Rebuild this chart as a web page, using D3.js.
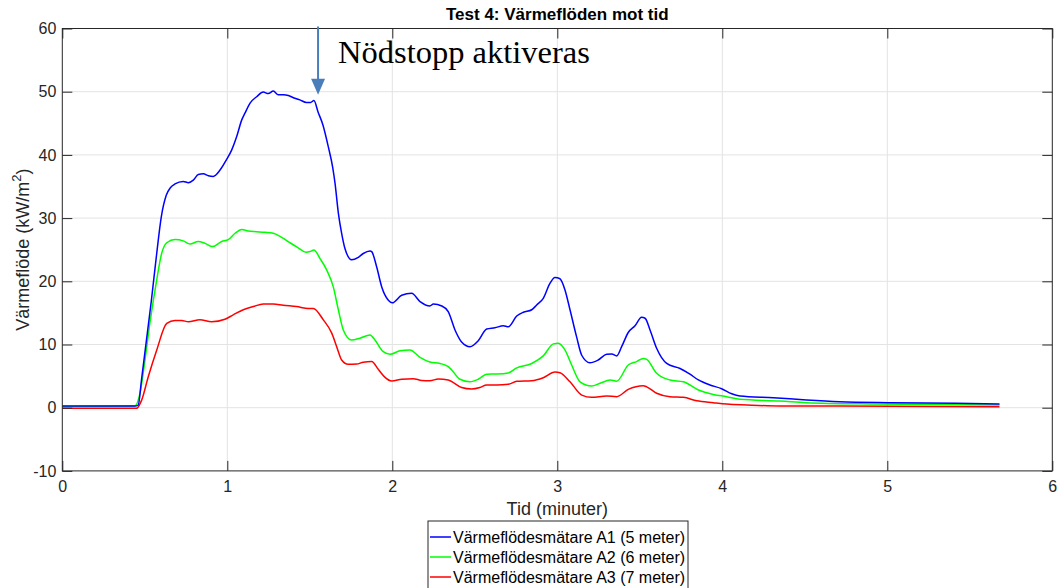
<!DOCTYPE html>
<html>
<head>
<meta charset="utf-8">
<script src="https://cdn.jsdelivr.net/npm/d3@7"></script>
<style>
  html, body { margin: 0; padding: 0; background: #fff; }
  svg { display: block; }
  text { font-family: "Liberation Sans", Arial, sans-serif; }
</style>
</head>
<body>
<svg id="chart" width="1057" height="588"></svg>
<script>
// Heat flux over time, three gauges (minutes, kW/m^2)
const seriesNames = [
  "Värmeflödesmätare A1 (5 meter)",
  "Värmeflödesmätare A2 (6 meter)",
  "Värmeflödesmätare A3 (7 meter)"
];
const seriesColors = ["#0000ff", "#00ff00", "#ff0000"];

const timeA1 = [0,0.2,0.44,0.46,0.48,0.51,0.54,0.57,0.60,0.63,0.655,0.683,0.733,0.764,0.794,0.824,0.855,0.885,0.915,0.956,0.996,1.027,1.057,1.087,1.107,1.138,1.178,1.218,1.248,1.279,1.309,1.339,1.37,1.40,1.44,1.48,1.505,1.525,1.55,1.58,1.612,1.639,1.653,1.673,1.693,1.713,1.754,1.794,1.824,1.865,1.875,1.905,1.936,1.976,2.0,2.057,2.117,2.168,2.228,2.249,2.30,2.339,2.38,2.42,2.471,2.521,2.572,2.622,2.673,2.703,2.754,2.794,2.845,2.875,2.915,2.956,2.986,3.016,3.047,3.077,3.117,3.148,3.198,3.248,3.299,3.33,3.36,3.39,3.43,3.471,3.511,3.532,3.562,3.602,3.663,3.744,3.804,3.855,3.925,3.996,4.057,4.107,4.309,4.51,4.71,5.02,5.42,5.68];
const fluxA1 = [0.25,0.25,0.25,0.4,4.4,10.7,17,23.9,30.2,33.6,34.8,35.4,35.8,35.6,36.0,36.9,37.0,36.7,36.6,37.6,39.3,40.8,42.9,45.5,46.6,48.2,49.2,49.95,49.7,50.1,49.5,49.5,49.4,49.05,48.7,48.3,48.3,48.6,46.8,44.7,41.3,38.0,35.5,30.8,27.6,25.2,23.4,23.8,24.4,24.8,24.7,22.3,19.1,17.0,16.6,17.8,18.1,16.8,16.1,16.4,16.1,15.2,12.3,10.4,9.65,10.6,12.45,12.65,12.97,12.8,14.5,15.1,15.5,16.25,17.3,19.7,20.6,20.4,18.6,15.5,11.2,8.3,7.1,7.55,8.45,8.5,8.2,9.65,11.9,12.97,14.3,14.15,12.3,9.4,7.0,6.2,5.3,4.4,3.6,3.0,2.2,1.85,1.58,1.22,0.95,0.8,0.7,0.58];

const timeA2 = [0,0.44,0.471,0.501,0.531,0.572,0.602,0.633,0.683,0.733,0.774,0.824,0.865,0.911,0.966,1.006,1.047,1.087,1.127,1.178,1.228,1.279,1.33,1.38,1.43,1.477,1.501,1.525,1.562,1.602,1.642,1.673,1.703,1.754,1.804,1.865,1.895,1.945,1.986,2.047,2.107,2.168,2.228,2.289,2.339,2.36,2.41,2.471,2.521,2.572,2.633,2.703,2.754,2.845,2.915,2.976,3.006,3.047,3.087,3.138,3.208,3.259,3.32,3.36,3.43,3.481,3.521,3.542,3.602,3.683,3.764,3.855,3.945,4.027,4.107,4.35,4.51,4.915,5.68];
const fluxA2 = [0.2,0.27,2.3,7.5,13.4,20.2,24.4,26.1,26.6,26.4,25.9,26.3,26.0,25.5,26.3,26.6,27.6,28.2,27.95,27.85,27.75,27.6,26.96,26.1,25.3,24.6,24.7,24.95,23.6,21.8,19.15,15.5,12.3,10.7,11.0,11.5,10.7,8.86,8.45,9.0,9.13,7.97,7.23,7.0,6.5,5.97,4.5,4.1,4.5,5.3,5.33,5.5,6.3,7.0,8.2,10.1,10.2,9.1,6.75,4.1,3.43,3.86,4.38,4.2,6.75,7.3,7.8,7.65,5.44,4.38,4.1,2.8,2.1,1.74,1.33,1.06,0.8,0.58,0.43];

const timeA3 = [0,0.45,0.481,0.521,0.572,0.633,0.683,0.723,0.764,0.834,0.905,0.986,1.036,1.097,1.158,1.218,1.279,1.339,1.42,1.491,1.521,1.582,1.633,1.663,1.693,1.733,1.784,1.824,1.875,1.915,1.956,1.996,2.057,2.127,2.178,2.228,2.279,2.339,2.42,2.481,2.531,2.572,2.633,2.703,2.754,2.845,2.915,2.986,3.016,3.077,3.148,3.208,3.299,3.36,3.43,3.521,3.542,3.602,3.683,3.764,3.845,3.945,4.027,4.148,4.35,4.71,5.68];
const fluxA3 = [-0.1,-0.1,1.2,4.9,9.1,13.35,13.8,13.8,13.6,13.9,13.6,14.0,14.7,15.5,16.0,16.4,16.4,16.2,16.0,15.7,15.7,13.9,11.8,9.65,7.55,6.86,6.9,7.2,7.3,6.07,4.8,4.22,4.5,4.6,4.3,4.27,4.54,4.38,3.2,2.96,3.2,3.6,3.6,3.7,4.17,4.27,4.75,5.65,5.54,4.1,2.0,1.64,1.85,1.74,2.9,3.48,3.3,2.28,1.74,1.64,1.1,0.8,0.58,0.43,0.27,0.27,0.16];

const xTicks = [0, 1, 2, 3, 4, 5, 6];
const yTicks = [-10, 0, 10, 20, 30, 40, 50, 60];

// Emergency stop annotation
const stopTime = 1.55;
const stopFlux = 49.5;
const stopLabel = "Nödstopp aktiveras";

const titleText = "Test 4: Värmeflöden mot tid";
const xLabel = "Tid (minuter)";

const svg = d3.select("#chart");
const plot = { left: 62.3, right: 1052.3, top: 28.5, bottom: 470.9 };

const x = d3.scaleLinear().domain([0, 6]).range([plot.left, plot.right]);
const y = d3.scaleLinear().domain([-10, 60]).range([plot.bottom, plot.top]);

// grid
const grid = svg.append("g");
grid.selectAll("line.gx").data(xTicks.slice(1, -1)).join("line")
  .attr("x1", d => x(d)).attr("x2", d => x(d))
  .attr("y1", plot.top).attr("y2", plot.bottom)
  .attr("stroke", "#e3e3e3").attr("stroke-width", 1);
grid.selectAll("line.gy").data(yTicks.slice(1, -1)).join("line")
  .attr("y1", d => y(d)).attr("y2", d => y(d))
  .attr("x1", plot.left).attr("x2", plot.right)
  .attr("stroke", "#e3e3e3").attr("stroke-width", 1);

// series
const seriesData = [
  d3.zip(timeA1, fluxA1),
  d3.zip(timeA2, fluxA2),
  d3.zip(timeA3, fluxA3)
];
const line = d3.line().x(d => x(d[0])).y(d => y(d[1])).curve(d3.curveMonotoneX);
// draw A3 first, A1 on top
[2, 1, 0].forEach(i => {
  svg.append("path").datum(seriesData[i])
    .attr("d", line)
    .attr("fill", "none")
    .attr("stroke", seriesColors[i])
    .attr("stroke-width", 1.5)
    .attr("stroke-linejoin", "round");
});

// axes (inward ticks on all four sides)
const tickColor = "#262626";
const fmt = d => String(d);   // plain hyphen-minus for negatives
const axisStyle = g => {
  g.select(".domain").remove();
  g.selectAll(".tick line").attr("stroke", tickColor);
  g.selectAll(".tick text").attr("fill", tickColor)
    .style("font-family", "'Liberation Sans', Arial, sans-serif").style("font-size", "16px");
};
svg.append("g").attr("transform", `translate(0,${plot.bottom})`)
  .call(d3.axisBottom(x).tickValues(xTicks).tickFormat(fmt).tickSizeInner(-10).tickSizeOuter(0).tickPadding(10))
  .call(axisStyle);
svg.append("g").attr("transform", `translate(0,${plot.top})`)
  .call(d3.axisTop(x).tickValues(xTicks).tickSizeInner(-10).tickSizeOuter(0).tickFormat(""))
  .call(axisStyle);
svg.append("g").attr("transform", `translate(${plot.left},0)`)
  .call(d3.axisLeft(y).tickValues(yTicks).tickFormat(fmt).tickSizeInner(-10).tickSizeOuter(0).tickPadding(6))
  .call(axisStyle);
svg.append("g").attr("transform", `translate(${plot.right},0)`)
  .call(d3.axisRight(y).tickValues(yTicks).tickSizeInner(-10).tickSizeOuter(0).tickFormat(""))
  .call(axisStyle);

svg.append("rect")
  .attr("x", plot.left).attr("y", plot.top)
  .attr("width", plot.right - plot.left).attr("height", plot.bottom - plot.top)
  .attr("fill", "none").attr("stroke", tickColor).attr("stroke-width", 1);

// title
svg.append("text")
  .attr("x", (plot.left + plot.right) / 2).attr("y", 20)
  .attr("text-anchor", "middle")
  .style("font-size", "17px").style("font-weight", "bold").attr("fill", "#000")
  .text(titleText);

// axis labels
svg.append("text")
  .attr("x", (plot.left + plot.right) / 2).attr("y", 515)
  .attr("text-anchor", "middle")
  .style("font-size", "18px").attr("fill", tickColor)
  .text(xLabel);

const yl = svg.append("text")
  .attr("transform", `translate(29,${(plot.top + plot.bottom) / 2}) rotate(-90)`)
  .attr("text-anchor", "middle")
  .style("font-size", "18px").attr("fill", tickColor);
yl.append("tspan").text("Värmeflöde (kW/m");
yl.append("tspan").attr("dy", -8).style("font-size", "13px").text("2");
yl.append("tspan").attr("dy", 8).text(")");

// annotation arrow
const arrowColor = "#4a7ebb";
const ax = x(stopTime);
const tipY = y(stopFlux);
svg.append("line")
  .attr("x1", ax).attr("x2", ax)
  .attr("y1", plot.top - 2).attr("y2", tipY - 14)
  .attr("stroke", arrowColor).attr("stroke-width", 2);
svg.append("path")
  .attr("d", `M${ax - 7},${tipY - 16} L${ax + 7},${tipY - 16} L${ax},${tipY} Z`)
  .attr("fill", arrowColor);
svg.append("text")
  .attr("x", ax + 20).attr("y", 63)
  .style("font-family", "'Liberation Serif', 'DejaVu Serif', serif")
  .style("font-size", "32.5px").attr("fill", "#000")
  .text(stopLabel);

// legend
const lg = svg.append("g").attr("transform", "translate(428,521)");
lg.append("rect")
  .attr("x", 0).attr("y", 0).attr("width", 260).attr("height", 70)
  .attr("fill", "#fff").attr("stroke", tickColor).attr("stroke-width", 1);
seriesNames.forEach((name, i) => {
  const cy = 16 + i * 20;
  lg.append("line")
    .attr("x1", 2).attr("x2", 23).attr("y1", cy).attr("y2", cy)
    .attr("stroke", seriesColors[i]).attr("stroke-width", 1.5);
  lg.append("text")
    .attr("x", 25).attr("y", cy + 5.5)
    .style("font-size", "16px").attr("fill", "#000")
    .text(name);
});
</script>
</body>
</html>
